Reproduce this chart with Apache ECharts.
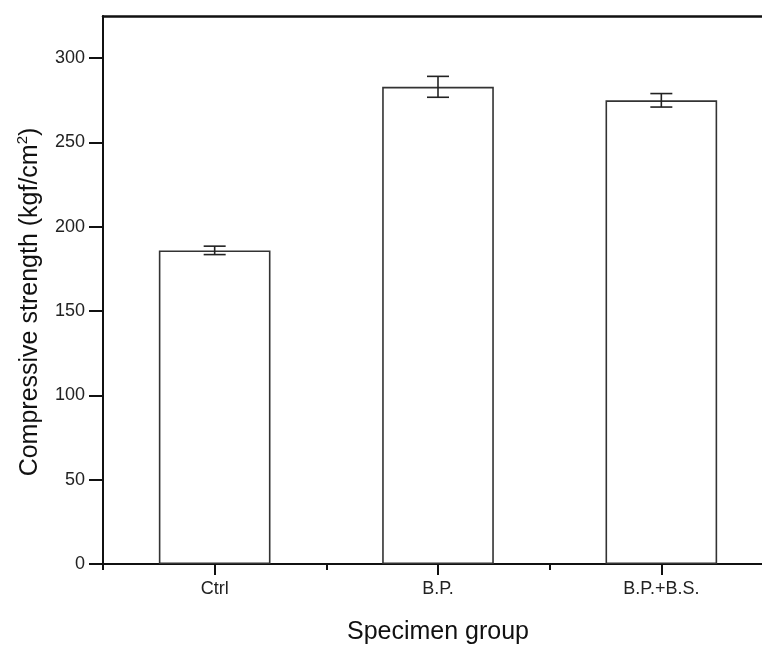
<!DOCTYPE html>
<html lang="en">
<head>
    <meta charset="UTF-8">
    <title>Compressive strength</title>
    <script src="https://cdn.jsdelivr.net/npm/echarts@6/dist/echarts.min.js"></script>
    <style>
        html, body { margin: 0; padding: 0; background: #fff; }
        .demo { width: 762px; height: 648px; }
    </style>
</head>
<body>
    <div class="demo"></div>
    <script>
        // data
        var groups = ['Ctrl', 'B.P.', 'B.P.+B.S.']
        var strength = [186, 283, 275]
        var errors = [2.5, 6.2, 4]
        var yTicks = [0, 50, 100, 150, 200, 250, 300]

        var font = 'Liberation Sans, Arial, sans-serif'
        var chart = echarts.init(document.querySelector('.demo'))

        // error bar data: [index, low, high]
        var errData = groups.map(function (g, i) {
            return [i, strength[i] - errors[i], strength[i] + errors[i]]
        })

        var option = {
            animation: false,
            // plot runs past the right edge of the picture
            grid: { left: 103, top: 16, width: 670, bottom: 84, outerBoundsMode: 'none', containLabel: false },
            xAxis: [{
                type: 'category',
                data: groups,
                position: 'bottom',
                offset: 0,
                name: 'Specimen group',
                nameLocation: 'middle',
                nameGap: 56,
                nameTextStyle: { fontFamily: font, fontSize: 25, color: '#111' },
                axisLine: { show: true, lineStyle: { color: '#111', width: 2 } },
                axisTick: { show: true, alignWithLabel: true, length: 11, lineStyle: { color: '#111', width: 2 } },
                axisLabel: { fontFamily: font, fontSize: 18, color: '#222', margin: 16 }
            }, {
                // boundary ticks between the groups
                type: 'category',
                data: groups,
                position: 'bottom',
                offset: 0,
                axisLine: { show: false },
                axisTick: { show: true, alignWithLabel: false, length: 6, lineStyle: { color: '#111', width: 2 } },
                axisLabel: { show: false }
            }, {
                // top frame line
                type: 'category',
                data: groups,
                position: 'top',
                axisLine: { show: true, lineStyle: { color: '#111', width: 2.5 } },
                axisTick: { show: false },
                axisLabel: { show: false }
            }],
            yAxis: {
                type: 'value',
                min: 0,
                max: 325,
                interval: 50,
                name: '{a|Compressive strength (kgf/cm}{s|2}{a|)}',
                nameLocation: 'middle',
                nameGap: 58,
                nameTextStyle: {
                    padding: [0, 24, 0, 0],
                    rich: {
                        a: { fontFamily: font, fontSize: 25, color: '#111', lineHeight: 30 },
                        s: { fontFamily: font, fontSize: 15, color: '#111', verticalAlign: 'top', lineHeight: 17 }
                    }
                },
                splitLine: { show: false },
                axisLine: { show: true, lineStyle: { color: '#111', width: 2 } },
                axisTick: { show: true, length: 14, customValues: yTicks, lineStyle: { color: '#111', width: 2 } },
                axisLabel: { fontFamily: font, fontSize: 18, color: '#222', margin: 18, customValues: yTicks }
            },
            series: [{
                name: 'strength',
                type: 'bar',
                data: strength,
                barWidth: '50%',
                itemStyle: { color: '#fff', borderColor: '#333', borderWidth: 1.6 }
            }, {
                name: 'error',
                type: 'custom',
                data: errData,
                z: 10,
                renderItem: function (params, api) {
                    var x = api.value(0)
                    var lo = api.coord([x, api.value(1)])
                    var hi = api.coord([x, api.value(2)])
                    var half = 11
                    var st = { stroke: '#222', lineWidth: 1.6 }
                    return {
                        type: 'group',
                        children: [
                            { type: 'line', shape: { x1: lo[0], y1: lo[1], x2: hi[0], y2: hi[1] }, style: st },
                            { type: 'line', shape: { x1: hi[0] - half, y1: hi[1], x2: hi[0] + half, y2: hi[1] }, style: st },
                            { type: 'line', shape: { x1: lo[0] - half, y1: lo[1], x2: lo[0] + half, y2: lo[1] }, style: st }
                        ]
                    }
                }
            }]
        }

        chart.setOption(option)
    </script>
</body>
</html>
